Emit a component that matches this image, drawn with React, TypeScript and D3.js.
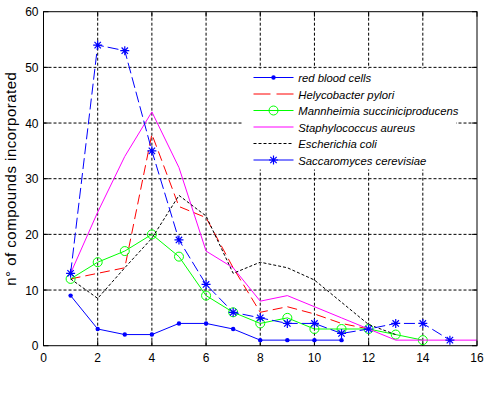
import React from "react";
import * as d3 from "d3";

const W = 493;
const H = 396;

const xTicks = [0, 2, 4, 6, 8, 10, 12, 14, 16];
const yTicks = [0, 10, 20, 30, 40, 50, 60];

const redBloodCells = [9, 3, 2, 2, 4, 4, 3, 1, 1, 1, 1];
const helycobacter = [12, 13, 14, 38, 25, 23, 14, 6, 7, 5.7, 4, 3];
const mannheimia = [12, 15, 17, 20, 16, 9, 6, 4, 5, 3, 3, 3, 2, 1];
const staphylococcus = [13, 24, 34, 42, 32, 17, 14, 8, 9, 7, 5, 3, 1, 1, 1, 1];
const escherichia = [12, 8.5, 14, 19.3, 27, 23.3, 13, 15, 14, 11.8, 7.8, 3.8, 2];
const saccharomyces = [13, 54, 53, 35, 19, 11, 6, 5, 4, 4, 2.2, 3, 4, 4, 1];

const seriesNames = [
  "red blood cells",
  "Helycobacter pylori",
  "Mannheimia succiniciproducens",
  "Staphylococcus aureus",
  "Escherichia coli",
  "Saccaromyces cerevisiae",
];

type Style = { color: string; dash?: string; legendDash?: string; marker?: "dot" | "circle" | "star" };

const styles: Style[] = [
  { color: "#0000FF", marker: "dot" },
  { color: "#FF0000", dash: "10,5", legendDash: "17,6" },
  { color: "#00FF00", marker: "circle" },
  { color: "#FF00FF" },
  { color: "#000000", dash: "3,2", legendDash: "3,2" },
  { color: "#0000FF", dash: "11,4", marker: "star" },
];

const allSeries = [redBloodCells, helycobacter, mannheimia, staphylococcus, escherichia, saccharomyces];

const x = d3.scaleLinear().domain([0, 16]).range([43.5, 477]);
const y = d3.scaleLinear().domain([0, 60]).range([345.7, 11.7]);

const line = d3
  .line<number>()
  .x((_, i) => x(i + 1))
  .y((d) => y(d));

function Marker({ kind, cx, cy, color }: { kind?: string; cx: number; cy: number; color: string }) {
  if (kind === "dot") return <circle cx={cx} cy={cy} r={2.2} fill={color} />;
  if (kind === "circle") return <circle cx={cx} cy={cy} r={4.5} fill="none" stroke={color} strokeWidth={1} />;
  if (kind === "star")
    return (
      <path
        transform={`translate(${cx},${cy})`}
        d="M-4.5,0H4.5M0,-4.5V4.5M-3.2,-3.2L3.2,3.2M-3.2,3.2L3.2,-3.2"
        stroke={color}
        strokeWidth={1.2}
        fill="none"
      />
    );
  return null;
}

export default function App() {
  const [x0, x1] = x.range();
  const [y0, y1] = y.range();
  const tickLen = 5;
  const legX0 = 253.5;
  const legX1 = 293.5;
  const legY = (i: number) => 77.5 + i * 16.5;
  return (
    <svg
      width={W}
      height={H}
      style={{ position: "absolute", left: 0, top: 0, background: "#fff" }}
      fontFamily="'Liberation Sans', Arial, sans-serif"
    >
      <rect x={0} y={0} width={W} height={H} fill="#fff" />
      {/* grid */}
      {xTicks.slice(1, -1).map((t) => (
        <line key={"gx" + t} x1={x(t)} x2={x(t)} y1={y0} y2={y1} stroke="#000" strokeDasharray="3,2" strokeWidth={1} />
      ))}
      {yTicks.slice(1, -1).map((t) => (
        <line key={"gy" + t} x1={x0} x2={x1} y1={y(t)} y2={y(t)} stroke="#000" strokeDasharray="3,2" strokeWidth={1} />
      ))}
      {/* ticks */}
      {xTicks.map((t) => (
        <g key={"tx" + t}>
          <line x1={x(t)} x2={x(t)} y1={y0} y2={y0 - tickLen} stroke="#000" />
          <line x1={x(t)} x2={x(t)} y1={y1} y2={y1 + tickLen} stroke="#000" />
          <text x={x(t)} y={361.5} textAnchor="middle" fontSize={12} fill="#000">
            {t}
          </text>
        </g>
      ))}
      {yTicks.map((t) => (
        <g key={"ty" + t}>
          <line x1={x0} x2={x0 + tickLen} y1={y(t)} y2={y(t)} stroke="#000" />
          <line x1={x1} x2={x1 - tickLen} y1={y(t)} y2={y(t)} stroke="#000" />
          <text x={38.5} y={y(t) + 4.5} textAnchor="end" fontSize={12} fill="#000">
            {t}
          </text>
        </g>
      ))}
      {/* series */}
      {allSeries.map((data, si) => (
        <g key={"s" + si}>
          <path
            d={line(data) || ""}
            fill="none"
            stroke={styles[si].color}
            strokeWidth={1}
            strokeDasharray={styles[si].dash}
          />
          {data.map((v, i) => (
            <Marker key={i} kind={styles[si].marker} cx={x(i + 1)} cy={y(v)} color={styles[si].color} />
          ))}
        </g>
      ))}
      {/* axes box */}
      <rect x={x0} y={y1} width={x1 - x0} height={y0 - y1} fill="none" stroke="#000" strokeWidth={1} />
      {/* legend */}
      <rect x={243} y={68.5} width={213} height={101} fill="#fff" />
      {seriesNames.map((name, i) => (
        <g key={"l" + i}>
          <line
            x1={legX0}
            x2={legX1}
            y1={legY(i)}
            y2={legY(i)}
            stroke={styles[i].color}
            strokeWidth={1}
            strokeDasharray={styles[i].legendDash}
          />
          <Marker kind={styles[i].marker} cx={(legX0 + legX1) / 2} cy={legY(i)} color={styles[i].color} />
          <text x={298.3} y={legY(i) + 4.5} fontSize={11.3} fontStyle="italic" fill="#000">
            {name}
          </text>
        </g>
      ))}
      {/* y label */}
      <text
        transform={`translate(16,${(y0 + y1) / 2}) rotate(-90)`}
        textAnchor="middle"
        fontSize={15}
        letterSpacing={0.5}
        fill="#000"
      >
        n° of compounds incorporated
      </text>
    </svg>
  );
}
